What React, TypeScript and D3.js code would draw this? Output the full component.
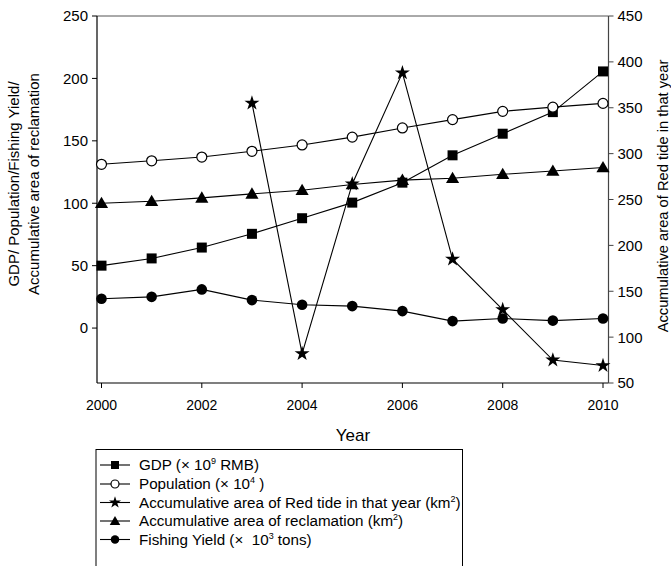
import React from "react";
import * as d3 from "d3";

const years = [2000, 2001, 2002, 2003, 2004, 2005, 2006, 2007, 2008, 2009, 2010];
const gdp = [50, 55.8, 64.5, 75.5, 88, 100.5, 116.5, 138.4, 155.7, 173, 205.6];
const population = [131.2, 134, 137, 141.6, 146.7, 153, 160.3, 167, 173.6, 177, 180];
const reclamation = [100, 101.6, 104.3, 107.5, 110.4, 115, 118.5, 120, 123.2, 125.8, 128.6];
const fishing = [23.5, 25, 31, 22.4, 18.7, 17.6, 13.6, 5.6, 7.7, 6, 7.7];
const redTideYears = [2003, 2004, 2005, 2006, 2007, 2008, 2009, 2010];
const redTide = [355, 82, 267, 388, 185, 130, 75, 69];

const leftTicks = [0, 50, 100, 150, 200, 250];
const rightTicks = [50, 100, 150, 200, 250, 300, 350, 400, 450];
const xTicks = [2000, 2002, 2004, 2006, 2008, 2010];

const FONT = "'Liberation Sans', Arial, sans-serif";

type Marker = "square" | "circle" | "star" | "triangle" | "dot";

function MarkerShape({ kind, x, y, s = 1 }: { kind: Marker; x: number; y: number; s?: number }) {
  if (kind === "square") {
    const sym = d3.symbol().type(d3.symbolSquare).size(100 * s * s)();
    return <path d={sym!} transform={`translate(${x},${y})`} fill="#000" />;
  }
  if (kind === "circle") {
    return <circle cx={x} cy={y} r={5 * s} fill="#fff" stroke="#000" strokeWidth={1.2} />;
  }
  if (kind === "dot") {
    return <circle cx={x} cy={y} r={5.3 * s} fill="#000" />;
  }
  if (kind === "triangle") {
    const sym = d3.symbol().type(d3.symbolTriangle).size(75 * s * s)();
    return <path d={sym!} transform={`translate(${x},${y + 1})`} fill="#000" />;
  }
  const sym = d3.symbol().type(d3.symbolStar).size(70 * s * s)();
  return <path d={sym!} transform={`translate(${x},${y})`} fill="#000" />;
}

export default function App() {
  const W = 671, H = 566;
  const x = d3.scaleLinear().domain([2000, 2010]).range([101.5, 603]);
  const yL = d3.scaleLinear().domain([-44, 250]).range([383, 16]);
  const yR = d3.scaleLinear().domain([50, 450]).range([383, 16]);
  const left = 97, right = 608.5, top = 16, bottom = 383;

  const lineL = d3.line<[number, number]>().x(d => x(d[0])).y(d => yL(d[1]));
  const lineR = d3.line<[number, number]>().x(d => x(d[0])).y(d => yR(d[1]));

  const seriesL: { vals: number[]; kind: Marker }[] = [
    { vals: gdp, kind: "square" },
    { vals: population, kind: "circle" },
    { vals: reclamation, kind: "triangle" },
    { vals: fishing, kind: "dot" },
  ];
  const redPts: [number, number][] = redTideYears.map((yy, i) => [yy, redTide[i]]);

  const legendItems: { kind: Marker; label: React.ReactNode }[] = [
    { kind: "square", label: <>GDP (× 10<tspan dy={-6} fontSize={9}>9</tspan><tspan dy={6}> RMB)</tspan></> },
    { kind: "circle", label: <>Population (× 10<tspan dy={-6} fontSize={9}>4</tspan><tspan dy={6}> )</tspan></> },
    { kind: "star", label: <>Accumulative area of Red tide in that year (km<tspan dy={-6} fontSize={9}>2</tspan><tspan dy={6}>)</tspan></> },
    { kind: "triangle", label: <>Accumulative area of reclamation (km<tspan dy={-6} fontSize={9}>2</tspan><tspan dy={6}>)</tspan></> },
    { kind: "dot", label: <>Fishing Yield (×{"\u00A0\u00A0"}10<tspan dy={-6} fontSize={9}>3</tspan><tspan dy={6}> tons)</tspan></> },
  ];
  const legendY = [465, 484, 502.5, 521, 539.5];

  return (
    <svg width={W} height={H} style={{ position: "absolute", left: 0, top: 0, background: "#fff" }} fontFamily={FONT}>
      <rect x={0} y={0} width={W} height={H} fill="#fff" />
      {/* frame */}
      <line x1={left} y1={top} x2={right} y2={top} stroke="#555" strokeWidth={1} />
      <line x1={left} y1={top} x2={left} y2={bottom} stroke="#000" strokeWidth={1.2} />
      <line x1={left} y1={bottom} x2={right} y2={bottom} stroke="#000" strokeWidth={1.2} />
      <line x1={right} y1={top} x2={right} y2={bottom} stroke="#444" strokeWidth={1.2} />

      {/* left ticks */}
      {leftTicks.map(t => (
        <g key={"l" + t}>
          <line x1={left - 5} x2={left} y1={yL(t)} y2={yL(t)} stroke="#000" />
          <text x={left - 9} y={yL(t)} dy="0.36em" textAnchor="end" fontSize={15}>{t}</text>
        </g>
      ))}
      {/* right ticks */}
      {rightTicks.map(t => (
        <g key={"r" + t}>
          <line x1={right} x2={right + 5} y1={yR(t)} y2={yR(t)} stroke="#444" />
          <text x={right + 9} y={yR(t)} dy="0.36em" textAnchor="start" fontSize={15}>{t}</text>
        </g>
      ))}
      {/* x ticks */}
      {xTicks.map(t => (
        <g key={"x" + t}>
          <line x1={x(t)} x2={x(t)} y1={bottom} y2={bottom + 5} stroke="#000" />
          <text x={x(t)} y={410} textAnchor="middle" fontSize={14}>{t}</text>
        </g>
      ))}

      {/* axis titles */}
      <text x={353} y={441} textAnchor="middle" fontSize={17}>Year</text>
      <text transform="translate(19,184) rotate(-90)" textAnchor="middle" fontSize={15}>GDP/ Population/Fishing Yield/</text>
      <text transform="translate(39,184) rotate(-90)" textAnchor="middle" fontSize={15}>Accumulative area of reclamation</text>
      <text transform="translate(668,196) rotate(-90)" textAnchor="middle" fontSize={14.7}>Accumulative area of Red tide in that year</text>

      {/* series on left axis */}
      {seriesL.map((s, si) => (
        <g key={"s" + si}>
          <path d={lineL(years.map((yy, i) => [yy, s.vals[i]] as [number, number]))!} fill="none" stroke="#000" strokeWidth={1.1} />
          {years.map((yy, i) => <MarkerShape key={i} kind={s.kind} x={x(yy)} y={yL(s.vals[i])} />)}
        </g>
      ))}
      {/* red tide on right axis */}
      <g>
        <path d={lineR(redPts)!} fill="none" stroke="#000" strokeWidth={1.1} />
        {redPts.map((p, i) => <MarkerShape key={i} kind="star" x={x(p[0])} y={yR(p[1])} />)}
      </g>

      {/* legend */}
      <rect x={96} y={449.5} width={366.5} height={130} fill="#fff" stroke="#000" strokeWidth={1} />
      {legendItems.map((it, i) => (
        <g key={"lg" + i}>
          <line x1={100} x2={130} y1={legendY[i]} y2={legendY[i]} stroke="#000" strokeWidth={1.1} />
          <MarkerShape kind={it.kind} x={115} y={legendY[i]} s={0.8} />
          <text x={139} y={legendY[i]} dy="0.36em" fontSize={15.2}>{it.label}</text>
        </g>
      ))}
    </svg>
  );
}
